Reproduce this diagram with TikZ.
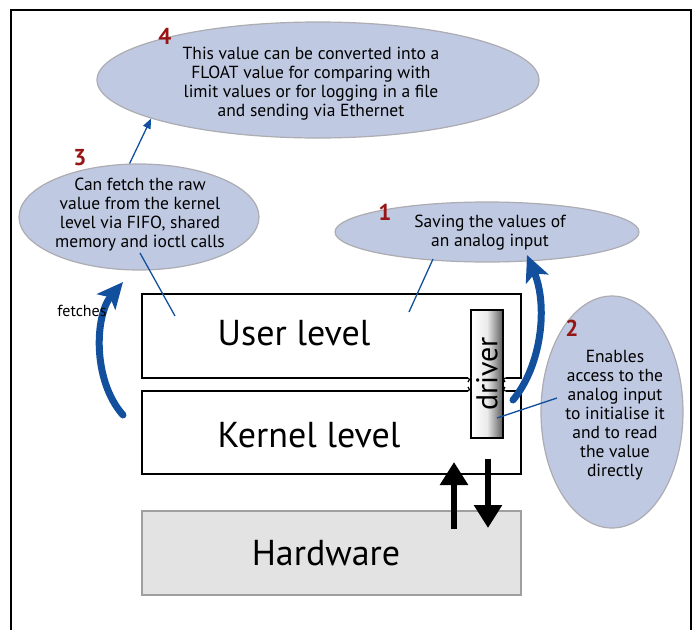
\documentclass[tikz,border=0pt]{standalone}
\usepackage{fontspec}
\setmainfont{PT Sans}
\usetikzlibrary{shapes.geometric,arrows.meta,calc}
\definecolor{bubblefill}{RGB}{191,201,225}
\definecolor{bubbleline}{RGB}{172,172,178}
\definecolor{linkblue}{RGB}{18,80,158}
\definecolor{numred}{RGB}{150,22,22}
\tikzset{
	bubble/.style={ellipse,draw=bubbleline,fill=bubblefill,line width=1.2pt,inner sep=0pt},
	bubbletext/.style={align=center,inner sep=0pt,font=\fontsize{17.5}{19}\selectfont},
	num/.style={text=numred,font=\fontsize{23}{23}\selectfont\bfseries},
	level/.style={draw,line width=1.2pt,minimum width=379pt,inner sep=0pt},
	big/.style={font=\fontsize{36}{36}\selectfont},
	link/.style={draw=linkblue,line width=1.3pt},
	fatarrow/.style={draw=linkblue,line width=7pt,line cap=round,-{Stealth[length=26pt,width=24pt,inset=6pt]}},
	bus/.style={line width=6pt,-{Triangle[length=23pt,width=27pt]}}
}
\begin{document}
\begin{tikzpicture}[x=1pt,y=-1pt]
			          %\draw[help lines,step=50] (0,0) grid (694,630);
			          \useasboundingbox (0,0) rectangle (694,630);
			          \draw[line width=2pt] (11,630) -- (11,10) -- (691,10) -- (691,630);
			          % levels
			          \node[level,minimum height=84pt] (user) at (331.5,336) {};
			          \node[level,minimum height=83pt] (kernel) at (331.5,432.5) {};
			          \node[level,draw=gray!75,fill=gray!22,minimum height=84pt] (hw) at (331.5,553) {};
			          \node[big] (usertxt) at (294,333) {User level};
			          \node[big] (kerneltxt) at (309,435) {Kernel level};
			          \node[big] (hwtxt) at (326,553) {Hardware};
			          \fill[white] (467.5,372) rectangle (505.5,397);
			          \draw[line width=1.2pt] (467,378) .. controls (470,378) and (470,381) .. (468,382);
			          \draw[line width=1.2pt] (467,391) .. controls (470,391) and (470,388) .. (468,387);
			          \draw[line width=1.2pt] (506,378) .. controls (503,378) and (503,381) .. (505,382);
			          \draw[line width=1.2pt] (506,391) .. controls (503,391) and (503,388) .. (505,387);
			          \node[draw,line width=1.2pt,left color=white,right color=black!65,middle color=white!92!black,minimum width=32pt,minimum height=128pt,inner sep=0pt,font=\fontsize{30}{30}\selectfont] (drv) at (487,374) {\rotatebox{90}{driver}};
			          % bubbles
			          \node[bubble,minimum width=442pt,minimum height=116pt] (e4) at (318,80) {};
			          \node[bubbletext] (t4) at (311,84) {This value can be converted into a\\FLOAT value for comparing with\\limit values or for logging in a file\\and sending via Ethernet};
			          \node[bubble,minimum width=240pt,minimum height=106pt] (e3) at (139,217) {};
			          \node[bubbletext] (t3) at (140,214.5) {Can fetch the raw\\value from the kernel\\level via FIFO, shared\\memory and ioctl calls};
			          \node[bubble,minimum width=304pt,minimum height=60pt] (e1) at (487,232) {};
			          \node[bubbletext] (t1) at (490,233) {Saving the values of\\an analog input};
			          \node[bubble,minimum width=142pt,minimum height=232pt] (e2) at (612,412) {};
			          \node[bubbletext] (t2) at (615,415.5) {Enables\\access to the\\analog input\\to initialise it\\and to read\\the value\\directly};
			          \node[num] (n4) at (165,36) {4};
			          \node[num] (n3) at (80,158) {3};
			          \node[num] (n1) at (385,212) {1};
			          \node[num] (n2) at (572,328) {2};
			          % links
			          \draw[link,-{Triangle[length=10pt,width=8pt]}] (e3.100) -- (e4.193);
			          \coordinate (u1) at (175,316);
			          \draw[link] ($(e3.center)+(1,36)$) -- (u1);
			          \coordinate (u2) at (409,312);
			          \draw[link] ($(e1.center)+(-54,27)$) -- (u2);
			          \coordinate (d1) at (497,418);
			          \draw[link] ($(e2.center)+(-55,-14)$) -- (d1);
			          % fat arrows
			          \coordinate (fl0) at (123,415);
			          \coordinate (fl1) at (123,282);
			          \draw[fatarrow] (fl0) .. controls (92,380) and (95,315) .. (fl1);
			          \node[font=\fontsize{16}{16}\selectfont] (fetch) at (82,311) {fetches};
			          \coordinate (fr0) at (513,400);
			          \coordinate (fr1) at (527,255);
			          \draw[fatarrow] (fr0) .. controls (542,365) and (548,305) .. (fr1);
			          \coordinate (b1) at (454,529);
			          \coordinate (b2) at (454,462);
			          \draw[bus] (b1) -- (b2);
			          \coordinate (b3) at (488,459);
			          \coordinate (b4) at (488,528);
			          \draw[bus] (b3) -- (b4);
\end{tikzpicture}
\end{document}
